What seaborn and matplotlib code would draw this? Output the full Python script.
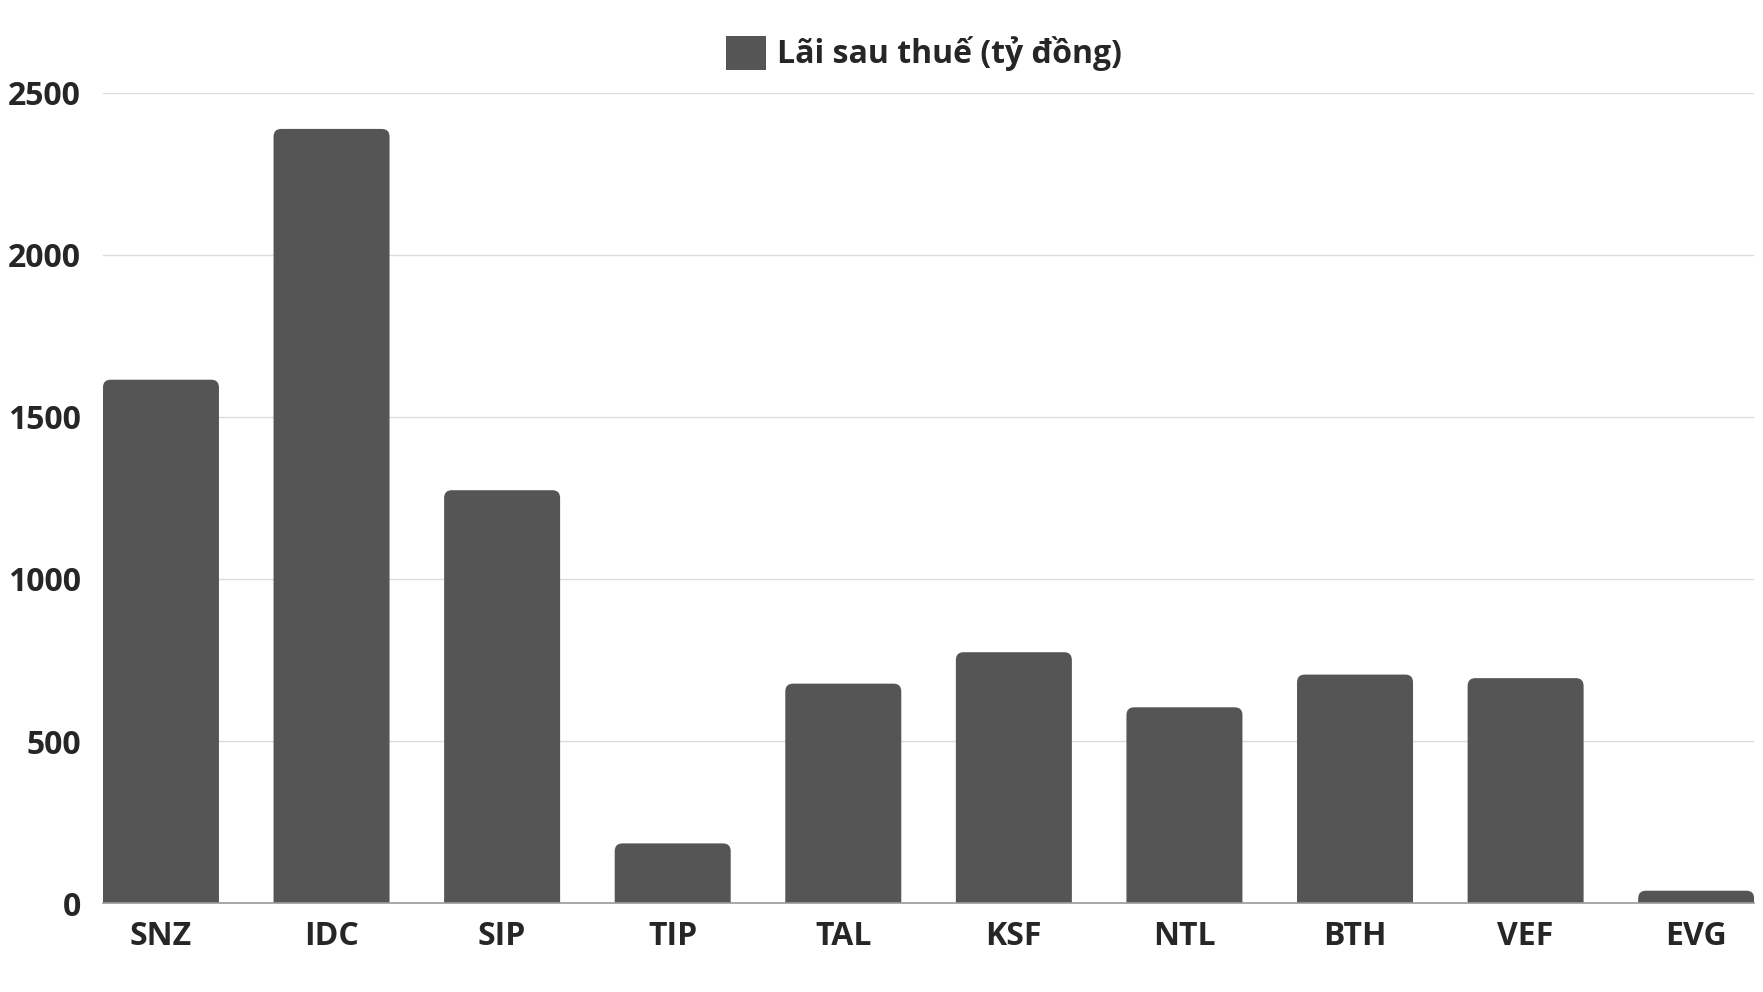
import numpy as np
import pandas as pd
import matplotlib
matplotlib.use("Agg")
import matplotlib.pyplot as plt
from matplotlib.patches import FancyBboxPatch, Patch
import seaborn as sns

ma_cp = ['SNZ', 'IDC', 'SIP', 'TIP', 'TAL', 'KSF', 'NTL', 'BTH', 'VEF', 'EVG']
lai_sau_thue = [1615, 2389, 1274, 184, 677, 774, 604, 705, 694, 38]
y_ticks = [0, 500, 1000, 1500, 2000, 2500]
nhan = 'Lãi sau thuế (tỷ đồng)'

sns.set_style('white')
plt.rcParams['font.family'] = ['Open Sans', 'DejaVu Sans']

df = pd.DataFrame({'ma': ma_cp, 'lai': lai_sau_thue})

fig = plt.figure(figsize=(17.63, 9.92), dpi=100)
ax = fig.add_axes([0.0584, 0.0897, 0.9366, 0.8166])

sns.barplot(data=df, x='ma', y='lai', color='#555555', width=0.68,
            saturation=1, ax=ax, zorder=3)

# bo goc tren cua cot
r_x = 0.045
r_y = 24
for p in list(ax.patches):
    x0, w, h = p.get_x(), p.get_width(), p.get_height()
    fb = FancyBboxPatch((x0 + r_x, -2 * r_y), w - 2 * r_x, h + r_y,
                        boxstyle='round,pad=0,rounding_size=%f' % r_x,
                        mutation_aspect=r_y / r_x,
                        fc='#555555', ec='none', zorder=3)
    fb.set_boxstyle('round', pad=r_x, rounding_size=r_x)
    p.remove()
    ax.add_patch(fb)

ax.set_xlim(-0.34, 9.34)
ax.set_ylim(0, 2500)
ax.set_yticks(y_ticks)
ax.set_yticklabels([str(v) for v in y_ticks])
ax.grid(axis='y', color='#dcdcdc', linewidth=1, zorder=0)
ax.grid(axis='x', visible=False)
for s in ['top', 'right', 'left']:
    ax.spines[s].set_visible(False)
ax.spines['bottom'].set_color('#9a9a9a')
ax.spines['bottom'].set_linewidth(1.2)
ax.spines['bottom'].set_zorder(4)
ax.tick_params(axis='y', length=0, pad=16, labelsize=23)
ax.tick_params(axis='x', length=0, pad=12, labelsize=23)
for t in ax.get_xticklabels() + ax.get_yticklabels():
    t.set_fontweight('bold')
ax.set_xlabel('')
ax.set_ylabel('')

fig.legend(handles=[Patch(fc='#555555', ec='none', label=nhan)],
           loc='center', bbox_to_anchor=(0.524, 0.946), frameon=False,
           prop={'size': 23, 'weight': 'bold'}, handlelength=1.25,
           handleheight=1.25, handletextpad=0.35)

fig.savefig('out.png', dpi=100)
